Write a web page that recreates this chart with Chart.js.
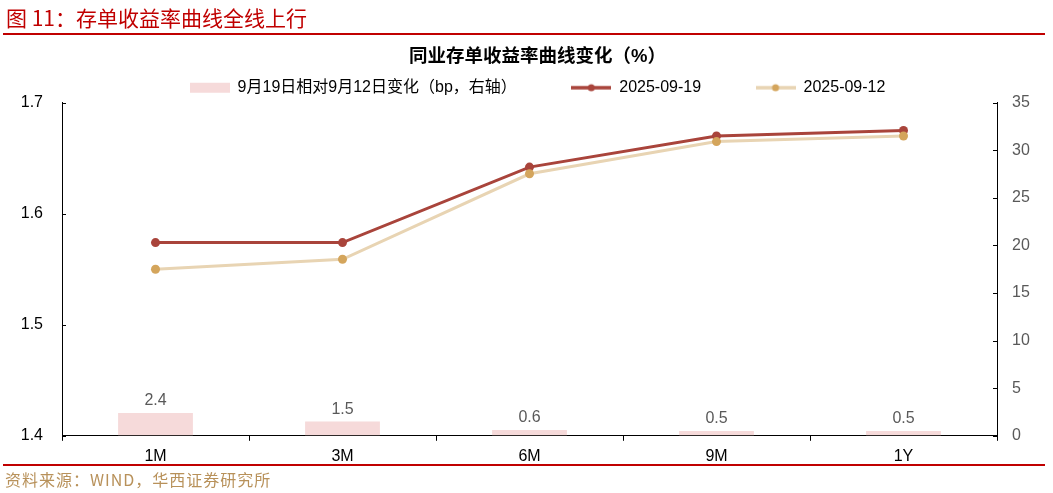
<!DOCTYPE html>
<html>
<head>
<meta charset="utf-8">
<script src="https://cdn.jsdelivr.net/npm/chart.js@4.4.1/dist/chart.umd.min.js"></script>
<style>
    html, body { margin: 0; padding: 0; background: #ffffff; }
    #wrap { position: relative; width: 1053px; height: 493px; overflow: hidden; }
    #chartBox { position: absolute; left: 0; top: 0; width: 1053px; height: 493px; }
    .head { position: absolute; left: 6px; top: 2px; font: 21px "Noto Sans CJK SC", sans-serif; color: #c00000; white-space: nowrap; }
    .redline { position: absolute; left: 3px; width: 1042px; height: 2px; background: #c00000; }
    .src { position: absolute; left: 5px; top: 467px; font: 16px "Noto Sans CJK SC", sans-serif; letter-spacing: 1px; color: #b8915a; white-space: nowrap; }
</style>
</head>
<body>
<div id="wrap">
    <div id="chartBox"><canvas id="chart"></canvas></div>
    <div class="head">图 11：存单收益率曲线全线上行</div>
    <div class="redline" style="top:33px;"></div>
    <div class="redline" style="top:464px;"></div>
    <div class="src">资料来源：WIND，华西证券研究所</div>
</div>

<script>
    // tenors and yields (%)
    var tenors = ["1M", "3M", "6M", "9M", "1Y"];
    var yield0919 = [1.574, 1.574, 1.642, 1.670, 1.675];
    var yield0912 = [1.550, 1.559, 1.636, 1.665, 1.670];
    var changeBp = [2.4, 1.5, 0.6, 0.5, 0.5];   // bp, right axis

    var leftTicks = [1.4, 1.5, 1.6, 1.7];
    var rightTicks = [0, 5, 10, 15, 20, 25, 30, 35];

    var FONT = '"Liberation Sans", "Noto Sans CJK SC", sans-serif';
    var RED = '#a9443b';
    var TAN_LINE = '#e8d4b3';
    var TAN_DOT = '#d4a55c';
    var PINK = '#f6dada';

    // little pictures for the legend
    function swatch(kind, lineColor, dotColor) {
        var c = document.createElement('canvas');
        c.width = 40; c.height = 12;
        var g = c.getContext('2d');
        if (kind == 'bar') {
            g.fillStyle = lineColor;
            g.fillRect(0, 1, 40, 10);
        } else {
            g.strokeStyle = lineColor;
            g.lineWidth = 3.5;
            g.beginPath(); g.moveTo(0, 6); g.lineTo(40, 6); g.stroke();
            g.fillStyle = dotColor;
            g.beginPath(); g.arc(20, 6, 3.5, 0, Math.PI * 2); g.fill();
        }
        return c;
    }

    var legendPics = [swatch('bar', PINK), swatch('line', RED, RED), swatch('line', TAN_LINE, TAN_DOT)];

    // bar value labels
    var barLabels = {
        id: 'barLabels',
        afterDatasetsDraw: function (chart) {
            var meta = chart.getDatasetMeta(0);
            var ctx = chart.ctx;
            ctx.save();
            ctx.font = '16px ' + FONT;
            ctx.fillStyle = '#595959';
            ctx.textAlign = 'center';
            ctx.textBaseline = 'middle';
            meta.data.forEach(function (bar, i) {
                ctx.fillText(changeBp[i].toFixed(1), bar.x, bar.y - 12);
            });
            ctx.restore();
        }
    };

    // tick marks that point into the plot
    var innerTicks = {
        id: 'innerTicks',
        afterDraw: function (chart) {
            var ctx = chart.ctx;
            var y = chart.scales.y, y1 = chart.scales.y1;
            ctx.save();
            ctx.strokeStyle = '#000';
            ctx.lineWidth = 1;
            ctx.beginPath();
            leftTicks.forEach(function (v) {
                var p = Math.round(y.getPixelForValue(v)) + 0.5;
                ctx.moveTo(y.right, p); ctx.lineTo(y.right + 4, p);
            });
            rightTicks.forEach(function (v) {
                var p = Math.round(y1.getPixelForValue(v)) + 0.5;
                ctx.moveTo(y1.left, p); ctx.lineTo(y1.left - 4, p);
            });
            ctx.stroke();
            ctx.restore();
        }
    };

    const chart = new Chart(document.getElementById('chart'), {
        type: 'bar',
        data: {
            labels: tenors,
            datasets: [
                {
                    type: 'bar', label: '9月19日相对9月12日变化（bp，右轴）',
                    data: changeBp, yAxisID: 'y1',
                    backgroundColor: PINK,
                    barPercentage: 0.4, categoryPercentage: 1.0,
                    order: 3
                },
                {
                    type: 'line', label: '2025-09-19',
                    data: yield0919, yAxisID: 'y',
                    borderColor: RED, backgroundColor: RED,
                    borderWidth: 3, pointRadius: 4.5, pointBorderWidth: 0,
                    pointBackgroundColor: RED,
                    order: 2
                },
                {
                    type: 'line', label: '2025-09-12',
                    data: yield0912, yAxisID: 'y',
                    borderColor: TAN_LINE, backgroundColor: TAN_DOT,
                    borderWidth: 3, pointRadius: 4.5, pointBorderWidth: 0,
                    pointBackgroundColor: TAN_DOT,
                    order: 1
                }
            ]
        },
        options: {
            responsive: true,
            maintainAspectRatio: false,
            animation: false,
            // left padding + narrower left axis moves title/legend a bit right, as in the picture
            layout: { padding: { top: 36, bottom: 21, left: 22, right: 0 } },
            plugins: {
                tooltip: { enabled: false },
                title: {
                    display: true,
                    text: '同业存单收益率曲线变化（%）',
                    color: '#000',
                    font: { family: FONT, size: 18.5, weight: 'bold' },
                    padding: { top: 10, bottom: 1.5 }
                },
                legend: {
                    display: true,
                    maxHeight: 33,
                    labels: {
                        usePointStyle: true,
                        pointStyleWidth: 40,
                        padding: 10,
                        color: '#000',
                        font: { family: FONT, size: 16 },
                        generateLabels: function (chart) {
                            // extra spaces widen the gap between items
                            var texts = [chart.data.datasets[0].label + '          ',
                                         chart.data.datasets[1].label + '          ',
                                         chart.data.datasets[2].label];
                            return texts.map(function (t, i) {
                                return { text: t, pointStyle: legendPics[i], datasetIndex: i,
                                         fillStyle: 'rgba(0,0,0,0)', strokeStyle: 'rgba(0,0,0,0)', lineWidth: 0 };
                            });
                        }
                    }
                }
            },
            scales: {
                x: {
                    grid: { display: true, drawOnChartArea: false, offset: true, tickLength: 5, color: '#000' },
                    border: { display: true, color: '#000', width: 1 },
                    ticks: { color: '#000', font: { family: FONT, size: 16 }, padding: 6 }
                },
                y: {
                    position: 'left',
                    min: 1.4, max: 1.7,
                    afterFit: function (s) { s.width = 40; },
                    afterBuildTicks: function (s) { s.ticks = leftTicks.map(function (v) { return { value: v }; }); },
                    grid: { drawOnChartArea: false, drawTicks: false },
                    border: { display: true, color: '#000', width: 1 },
                    ticks: {
                        color: '#000', padding: 19,
                        font: { family: FONT, size: 16 },
                        callback: function (v) { return v.toFixed(1); }
                    }
                },
                y1: {
                    position: 'right',
                    min: 0, max: 35,
                    afterFit: function (s) { s.width = 56; },
                    afterBuildTicks: function (s) { s.ticks = rightTicks.map(function (v) { return { value: v }; }); },
                    grid: { drawOnChartArea: false, drawTicks: false },
                    border: { display: true, color: '#000', width: 1 },
                    ticks: {
                        color: '#595959', padding: 15,
                        font: { family: FONT, size: 16 }
                    }
                }
            }
        },
        plugins: [barLabels, innerTicks]
    });
</script>
</body>
</html>
